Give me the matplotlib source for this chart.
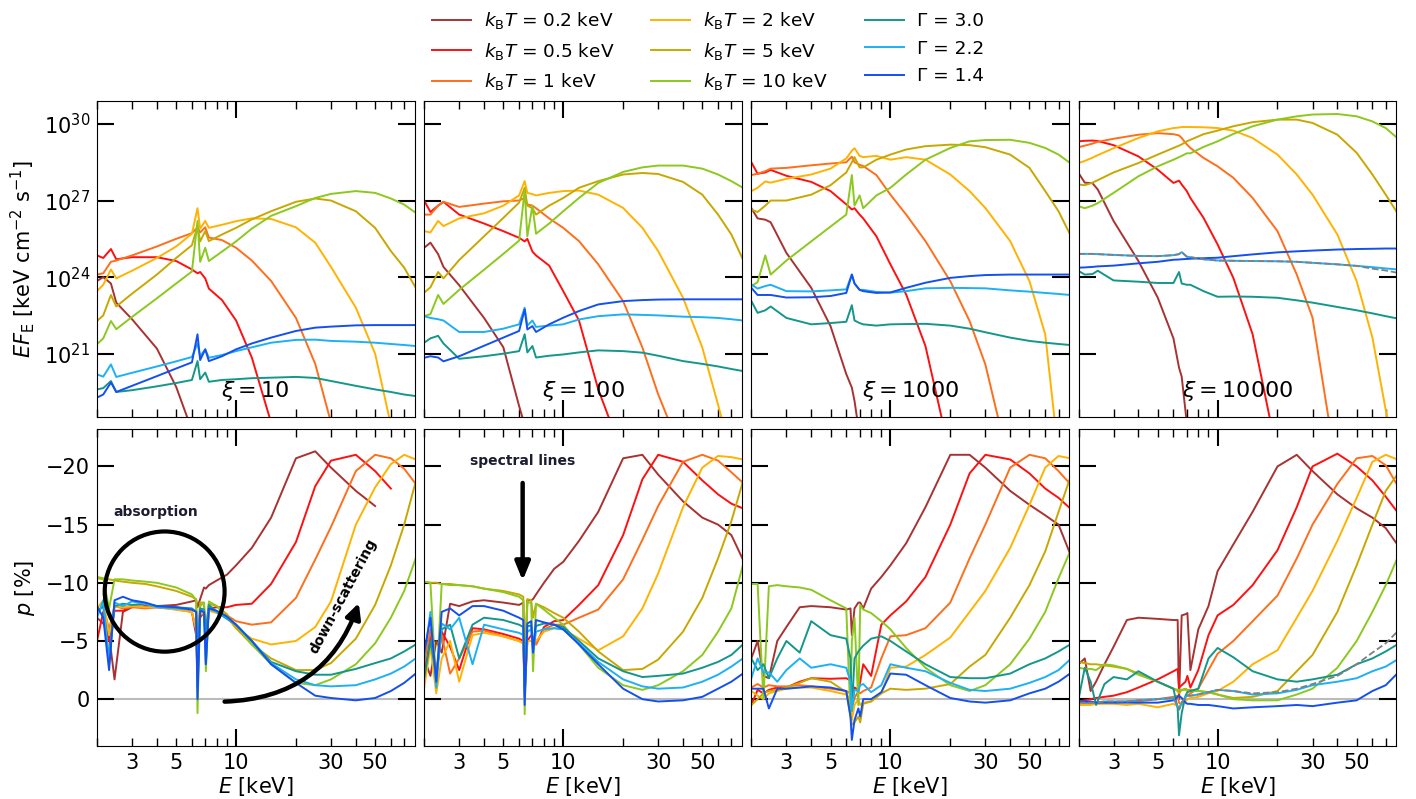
import numpy as np
import matplotlib
matplotlib.use("Agg")
import matplotlib.pyplot as plt
from matplotlib.patches import Ellipse
from matplotlib.ticker import FixedLocator, NullLocator, FuncFormatter

nan = float("nan")

# Energy grids (keV)
E_flux = [2.0, 2.15, 2.35, 2.5, 3.0, 4.0, 5.0, 6.0, 6.4, 6.6, 7.0, 7.3, 8.5, 10,
          12, 15, 20, 25, 30, 40, 50, 60, 70, 80]
E_pol = [2.0, 2.15, 2.3, 2.45, 2.7, 3.0, 3.5, 4.0, 5.0, 6.0, 6.3, 6.4, 6.6, 6.9, 7.05,
         7.3, 8.0, 9.0, 10, 12, 15, 20, 25, 30, 40, 50, 60, 70, 80]

legend_labels = [r"$k_{\rm B}T$ = 0.2 keV", r"$k_{\rm B}T$ = 0.5 keV", r"$k_{\rm B}T$ = 1 keV",
                 r"$k_{\rm B}T$ = 2 keV", r"$k_{\rm B}T$ = 5 keV", r"$k_{\rm B}T$ = 10 keV",
                 "Γ = 3.0", "Γ = 2.2", "Γ = 1.4"]
colors = ["#a83232", "#ff1010", "#ff6e1a", "#ffb300", "#c8a800", "#8cc81e",
          "#14978a", "#1cb0f6", "#1450f0"]
xi_values = ["10", "100", "1000", "10000"]

# log10 of E F_E, rows in legend order
logflux_xi10 = [
    [23.85, 24.0, 23.75, 23.0, 22.35, 21.2, 19.7, 18.0] + [nan] * 16,
    [24.85, 24.75, 25.1, 24.7, 24.78, 24.78, 24.63, 24.3, 24.15, 24.2, 23.95, 23.55, 23.1, 22.3, 20.85, 18.3] + [nan] * 8,
    [24.1, 24.15, 24.6, 24.65, 24.85, 25.2, 25.5, 25.72, 25.95, 25.75, 25.95, 25.55, 25.45, 25.15, 24.65, 23.85, 22.4, 20.6, 18.3] + [nan] * 5,
    [23.45, 23.7, 24.3, 23.95, 24.25, 24.75, 25.2, 25.7, 26.7, 25.9, 26.2, 25.93, 26.05, 26.19, 26.3, 26.28, 25.95, 25.35, 24.4, 22.8, 21.0, 18.2, nan, nan],
    [22.28, 22.5, 23.3, 22.85, 23.35, 24.1, 24.75, 25.25, 26.0, 25.4, 25.8, 25.41, 25.67, 25.93, 26.26, 26.58, 26.95, 27.08, 27.0, 26.58, 25.93, 25.02, 24.37, 23.58],
    [21.37, 21.6, 22.28, 21.96, 22.44, 23.17, 23.75, 24.22, 26.2, 24.6, 25.15, 24.63, 25.0, 25.4, 25.9, 26.4, 26.78, 27.1, 27.26, 27.37, 27.3, 27.08, 26.84, 26.52],
    [19.6, 19.65, 19.93, 19.5, 19.57, 19.72, 19.85, 19.97, 20.71, 20.0, 20.26, 19.9, 19.97, 20.0, 20.04, 20.06, 20.09, 20.05, 19.93, 19.74, 19.6, 19.5, 19.4, 19.34],
    [20.19, 20.1, 20.58, 20.09, 20.25, 20.5, 20.7, 20.87, 21.4, 20.9, 21.17, 20.84, 20.95, 21.1, 21.25, 21.43, 21.54, 21.55, 21.5, 21.47, 21.43, 21.38, 21.34, 21.3],
    [19.28, 19.4, 19.87, 19.5, 19.74, 20.12, 20.42, 20.66, 21.76, 20.75, 21.17, 20.71, 20.9, 21.17, 21.4, 21.63, 21.89, 22.02, 22.06, 22.11, 22.12, 22.12, 22.12, 22.12],
]
logflux_xi100 = [
    [25.15, 25.35, 24.9, 24.4, 23.68, 22.4, 21.25, 18.95, 18.2] + [nan] * 15,
    [27.0, 26.55, 26.8, 26.95, 26.45, 26.1, 25.8, 25.54, 25.4, 25.5, 25.0, 24.85, 24.45, 23.45, 22.3, 19.6, 17.0] + [nan] * 7,
    [26.45, 26.45, 26.8, 26.95, 26.75, 26.88, 26.97, 27.0, 27.1, 26.85, 26.8, 26.7, 26.3, 25.93, 25.41, 24.5, 23.06, 21.24, 19.41, 17.0] + [nan] * 4,
    [25.8, 25.75, 26.2, 26.0, 26.3, 26.5, 26.8, 27.2, 27.76, 27.3, 27.25, 27.2, 27.3, 27.37, 27.39, 27.23, 26.71, 25.93, 25.02, 23.19, 21.24, 19.0, 17.0, nan],
    [23.39, 23.6, 24.2, 23.95, 24.67, 25.6, 26.32, 26.92, 27.5, 26.8, 26.7, 26.45, 26.8, 27.1, 27.5, 27.76, 28.02, 28.08, 28.04, 27.73, 27.23, 26.45, 25.67, 24.69],
    [22.47, 22.55, 23.3, 22.95, 23.5, 24.29, 24.91, 25.43, 27.4, 25.6, 26.8, 25.7, 26.1, 26.58, 27.1, 27.69, 28.12, 28.3, 28.37, 28.37, 28.25, 28.02, 27.76, 27.5],
    [21.43, 21.6, 21.7, 21.4, 20.8, 20.9, 21.0, 21.1, 21.76, 21.05, 21.3, 20.85, 20.92, 20.97, 21.05, 21.13, 21.1, 21.04, 20.92, 20.71, 20.6, 20.5, 20.4, 20.32],
    [22.47, 22.4, 22.35, 22.3, 21.85, 21.85, 21.98, 22.15, 22.8, 22.1, 22.3, 22.05, 22.1, 22.15, 22.34, 22.47, 22.54, 22.52, 22.5, 22.45, 22.43, 22.4, 22.35, 22.3],
    [20.84, 20.9, 20.85, 20.7, 20.9, 21.31, 21.63, 21.89, 22.73, 21.95, 22.08, 21.85, 22.15, 22.41, 22.67, 22.93, 23.06, 23.1, 23.12, 23.13, 23.13, 23.13, 23.13, 23.13],
]
logflux_xi1000 = [
    [26.7, 26.3, 26.25, 26.15, 24.95, 23.58, 22.08, 20.2, 19.67, 19.15, 17.8] + [nan] * 13,
    [28.5, 28.05, 28.1, 28.2, 27.97, 27.73, 27.37, 26.85, 26.65, 26.7, 26.45, 26.3, 25.6, 24.5, 23.32, 21.3, 17.0] + [nan] * 7,
    [28.0, 28.05, 28.15, 28.25, 28.28, 28.38, 28.45, 28.5, 28.72, 28.5, 28.4, 28.35, 28.0, 27.23, 26.45, 25.41, 23.84, 22.28, 20.58, 16.5] + [nan] * 4,
    [27.37, 27.5, 27.75, 27.7, 27.85, 28.02, 28.25, 28.65, 28.95, 29.05, 28.75, 28.7, 28.75, 28.6, 28.7, 28.6, 28.02, 27.37, 26.71, 25.41, 23.84, 21.76, 17.0, nan],
    [26.65, 26.55, 26.8, 27.0, 27.0, 27.23, 27.6, 28.1, 28.5, 28.7, 28.3, 28.3, 28.6, 28.8, 29.0, 29.13, 29.19, 29.17, 29.09, 28.8, 28.28, 27.37, 26.58, 25.67],
    [23.65, 23.8, 24.85, 24.1, 24.65, 25.4, 25.98, 26.45, 28.0, 26.8, 27.2, 26.7, 27.2, 27.5, 28.02, 28.6, 29.06, 29.32, 29.37, 29.38, 29.26, 29.06, 28.8, 28.47],
    [23.06, 22.6, 22.7, 22.85, 22.4, 22.15, 22.2, 22.25, 22.9, 22.3, 22.2, 22.15, 22.1, 22.15, 22.16, 22.17, 22.1, 21.98, 21.84, 21.63, 21.5, 21.43, 21.38, 21.34],
    [23.71, 23.55, 23.65, 23.7, 23.45, 23.44, 23.48, 23.52, 24.1, 23.75, 23.5, 23.5, 23.42, 23.39, 23.45, 23.56, 23.58, 23.57, 23.56, 23.48, 23.43, 23.38, 23.34, 23.3],
    [23.58, 23.3, 23.3, 23.3, 23.2, 23.21, 23.26, 23.38, 24.1, 23.75, 23.5, 23.45, 23.38, 23.4, 23.58, 23.78, 23.97, 24.04, 24.08, 24.1, 24.1, 24.1, 24.1, 24.1],
]
logflux_xi10000 = [
    [28.08, 27.7, 27.68, 27.43, 26.2, 24.63, 23.2, 21.6, 20.45, 20.1, 18.3, 17.5] + [nan] * 12,
    [29.32, 29.34, 29.35, 29.33, 29.17, 28.73, 28.21, 27.69, 27.78, 27.63, 27.37, 27.1, 26.32, 25.28, 23.97, 21.76, 17.0] + [nan] * 7,
    [29.09, 29.15, 29.23, 29.3, 29.42, 29.58, 29.64, 29.6, 29.55, 29.45, 29.2, 29.06, 28.67, 28.34, 27.89, 27.1, 25.8, 24.1, 22.41, 16.3] + [nan] * 4,
    [28.47, 28.55, 28.68, 28.78, 29.05, 29.45, 29.71, 29.84, 29.86, 29.88, 29.88, 29.88, 29.87, 29.84, 29.74, 29.45, 28.8, 28.02, 27.23, 25.67, 23.84, 21.63, 18.8, 16.5],
    [27.63, 27.6, 27.7, 27.8, 28.1, 28.47, 28.8, 29.06, 29.15, 29.2, 29.32, 29.38, 29.6, 29.74, 29.91, 30.07, 30.17, 30.17, 30.04, 29.58, 28.87, 28.02, 27.23, 26.52],
    [26.78, 26.7, 26.8, 26.9, 27.3, 27.95, 28.34, 28.6, 28.7, 28.75, 28.85, 28.85, 29.1, 29.32, 29.61, 29.91, 30.17, 30.3, 30.37, 30.39, 30.3, 30.1, 29.84, 29.45],
    [24.24, 24.1, 24.12, 24.25, 23.87, 23.82, 23.77, 23.77, 24.2, 23.75, 23.7, 23.7, 23.45, 23.23, 23.24, 23.23, 23.19, 23.09, 23.0, 22.83, 22.7, 22.58, 22.47, 22.38],
    [24.91, 24.91, 24.91, 24.9, 24.87, 24.83, 24.82, 24.86, 24.9, 24.98, 24.8, 24.78, 24.7, 24.65, 24.64, 24.63, 24.62, 24.6, 24.56, 24.5, 24.44, 24.39, 24.34, 24.3],
    [24.37, 24.38, 24.4, 24.42, 24.45, 24.54, 24.6, 24.68, 24.69, 24.7, 24.71, 24.72, 24.74, 24.76, 24.82, 24.89, 24.97, 25.01, 25.04, 25.08, 25.1, 25.11, 25.12, 25.12],
]
logflux_gray_xi10000 = [24.91, 24.91, 24.91, 24.9, 24.87, 24.83, 24.82, 24.86, 24.9, 24.98, 24.8, 24.78,
                        24.7, 24.65, 24.64, 24.63, 24.62, 24.6, 24.56, 24.5, 24.44, 24.33, 24.26, 24.17]

# polarisation degree p [%]
pol_xi10 = [
    [-7.0, -6.5, -5.5, -1.7, -7.5, -7.9, -8.0, -8.0, -8.1, -8.4, -8.5, -7.9, -8.6, -9.6, -9.5, -9.8, -10.2, -10.7, -11.5, -13.0, -15.6, -20.7, -21.3, -19.9, -17.9, -16.6, nan, nan, nan],
    [-5.0, -7.5, -5.0, -7.6, -7.6, -8.0, -7.9, -7.9, -7.8, -7.5, -5.5, -2.0, -7.0, -7.5, -5.0, -7.8, -7.9, -7.9, -8.1, -8.2, -9.9, -13.5, -18.3, -20.5, -21.0, -19.6, -18.1, nan, nan],
    [-7.5, -8.0, -6.0, -8.0, -7.8, -7.9, -7.8, -7.9, -7.7, -7.5, -6.0, -2.5, -7.3, -7.5, -5.0, -7.6, -7.5, -7.2, -6.7, -6.4, -6.6, -8.7, -12.0, -14.8, -19.6, -21.0, -20.7, -19.8, -18.5],
    [-7.8, -8.5, -5.5, -8.0, -7.9, -8.0, -7.9, -7.9, -7.7, -7.5, -6.0, -2.0, -7.3, -7.4, -5.0, -7.6, -7.4, -7.0, -6.1, -5.2, -4.7, -5.0, -6.2, -8.4, -15.0, -18.2, -20.2, -21.0, -20.6],
    [-10.4, -10.3, -10.3, -10.2, -10.1, -10.0, -9.9, -9.7, -9.3, -8.8, -8.6, -5.0, -8.3, -8.3, -6.0, -8.2, -8.0, -7.3, -6.1, -4.7, -3.5, -2.5, -2.5, -3.1, -5.2, -8.1, -11.5, -15.0, -18.7],
    [-10.5, -10.4, -7.8, -10.3, -10.3, -10.2, -10.1, -10.0, -9.6, -9.0, -8.5, 1.2, -8.0, -8.3, -2.4, -8.4, -8.0, -7.0, -6.4, -4.7, -3.0, -1.4, -1.2, -1.7, -3.0, -4.8, -7.0, -9.3, -12.1],
    [-7.5, -8.0, -3.5, -8.0, -8.2, -8.1, -8.2, -8.0, -7.9, -7.8, -7.5, -3.5, -7.8, -7.7, -5.8, -8.1, -7.5, -6.9, -6.4, -5.0, -3.2, -2.4, -2.1, -2.1, -2.6, -3.1, -3.5, -4.1, -4.7],
    [-7.0, -8.5, -3.0, -8.3, -8.0, -8.4, -8.2, -7.9, -7.8, -7.7, -7.5, -1.0, -7.6, -7.6, -3.0, -7.8, -7.5, -7.0, -6.4, -5.0, -3.1, -1.7, -1.2, -1.1, -1.2, -1.7, -2.2, -2.8, -3.5],
    [-8.0, -7.0, -2.5, -8.5, -8.8, -8.5, -8.3, -8.0, -7.9, -7.7, -7.5, 0.0, -7.6, -7.5, -3.0, -7.8, -7.6, -7.1, -6.4, -5.0, -3.0, -1.4, -0.3, -0.1, 0.1, -0.1, -0.7, -1.4, -2.2],
]
pol_xi100 = [
    [-3.5, -2.0, -5.0, -4.0, -8.2, -8.0, -8.4, -8.5, -8.3, -8.1, -8.3, -1.5, -8.5, -8.5, -8.6, -9.0, -10.0, -11.2, -11.8, -13.6, -16.1, -20.7, -21.0, -19.3, -17.0, -15.6, -15.0, -14.1, -12.0],
    [-1.8, -5.5, -2.0, -5.8, -4.5, -2.5, -6.1, -6.0, -5.6, -5.2, -5.0, -0.8, -5.0, -5.5, -5.3, -4.7, -6.2, -6.7, -6.8, -8.1, -9.8, -14.1, -18.9, -21.0, -20.4, -18.8, -17.6, -16.8, -16.4],
    [-3.0, -6.0, -2.5, -5.5, -2.2, -3.5, -5.8, -5.9, -5.4, -5.0, -4.8, -0.5, -5.0, -5.0, -5.2, -4.7, -6.0, -6.4, -6.4, -7.0, -7.7, -10.3, -13.7, -16.6, -20.4, -21.0, -20.5, -19.5, -18.6],
    [-1.0, -4.5, -0.5, -3.5, -5.0, -1.5, -5.5, -5.7, -5.4, -5.0, -4.8, -0.2, -5.0, -5.0, -5.2, -5.0, -5.8, -6.1, -6.0, -5.2, -4.2, -5.4, -7.8, -10.8, -16.5, -19.9, -20.9, -20.8, -20.6],
    [-10.1, -10.0, -10.0, -9.9, -9.9, -9.8, -9.7, -9.5, -9.3, -9.0, -8.8, -3.0, -8.6, -8.5, -7.0, -8.2, -7.9, -7.4, -7.0, -5.8, -4.1, -2.5, -2.6, -3.4, -5.8, -8.7, -12.1, -15.3, -18.7],
    [-10.1, -10.0, -1.0, -9.9, -9.8, -9.8, -9.7, -9.5, -9.2, -8.8, -8.5, 1.3, -8.3, -8.3, -2.4, -8.2, -7.7, -7.0, -6.4, -4.7, -2.7, -1.2, -0.8, -1.2, -2.4, -3.8, -5.8, -7.8, -11.5],
    [-1.8, -5.0, -2.0, -6.0, -6.4, -3.5, -6.4, -7.0, -6.8, -6.4, -6.2, -1.0, -6.3, -6.3, -4.5, -6.3, -6.5, -6.4, -6.2, -5.0, -3.5, -2.4, -1.9, -2.0, -2.2, -2.7, -3.2, -3.8, -4.7],
    [-3.5, -7.5, -1.0, -6.5, -6.0, -7.0, -3.0, -6.4, -6.0, -5.7, -5.5, -0.2, -5.8, -6.0, -4.0, -5.8, -6.0, -6.1, -6.0, -4.8, -3.2, -1.7, -1.1, -0.9, -1.0, -1.5, -2.1, -2.8, -3.5],
    [-4.0, -7.0, -1.5, -7.5, -7.8, -7.2, -8.0, -8.0, -7.6, -7.0, -6.8, 0.5, -6.5, -6.7, -4.0, -6.8, -6.6, -6.4, -6.0, -4.7, -3.0, -0.9, 0.0, 0.2, 0.1, -0.2, -0.9, -1.5, -2.2],
]
pol_xi1000 = [
    [-3.5, -5.0, -2.0, -1.8, -5.0, -6.2, -7.9, -8.0, -7.9, -7.7, -7.8, -5.5, -7.8, -8.3, -8.3, -7.8, -9.5, -10.5, -11.5, -13.4, -16.5, -21.0, -21.0, -19.9, -17.9, -16.7, -15.8, -15.0, -12.5],
    [0.5, -0.8, -0.5, -0.8, -1.0, -1.0, -1.5, -1.8, -1.75, -1.8, -1.6, 0.5, -1.0, -0.8, -1.5, -3.0, -2.0, -6.4, -7.2, -8.4, -10.5, -15.0, -19.4, -21.0, -20.6, -19.4, -18.1, -17.3, -16.4],
    [-1.0, -1.3, -1.0, -1.2, -1.1, -1.1, -1.2, -1.1, -0.9, -0.7, -0.5, 0.8, -0.1, -0.7, -0.5, -0.7, -1.0, -3.5, -5.4, -5.5, -6.1, -8.3, -12.1, -15.0, -19.9, -21.0, -20.7, -19.6, -18.5],
    [-0.7, -0.3, 0.0, -0.5, -0.7, -0.9, -1.0, -1.0, -0.7, -0.4, 0.0, 1.8, 0.5, 0.0, 0.5, 0.3, 0.2, -0.5, -2.7, -2.8, -3.8, -5.3, -7.5, -9.3, -13.0, -16.7, -19.9, -20.9, -20.7],
    [0.5, 0.0, -0.5, -0.7, -0.8, -1.0, -1.4, -1.8, -1.5, -0.6, 1.5, 2.2, 2.0, 1.5, 2.0, 0.4, 0.2, -0.5, -0.9, -0.8, -0.9, -1.3, -2.8, -3.8, -7.0, -9.8, -12.7, -16.1, -19.0],
    [-9.9, -9.9, 0.0, -9.7, -9.8, -9.7, -9.6, -9.4, -8.5, -7.8, 1.4, -5.0, -7.0, 0.5, -8.1, -7.7, -7.4, -6.7, -6.0, -4.4, -2.7, -1.2, -0.7, -1.2, -3.0, -5.2, -7.5, -10.4, -12.7],
    [-3.5, -2.5, -3.0, -1.8, -3.5, -5.0, -4.0, -6.7, -5.5, -5.2, -3.5, 1.0, -3.5, -4.1, -4.3, -4.6, -5.2, -5.4, -5.0, -4.1, -3.0, -1.9, -1.8, -1.8, -2.2, -3.0, -3.5, -4.1, -4.7],
    [-1.8, -3.5, -2.3, -2.3, -1.5, -2.5, -3.5, -2.7, -3.0, -2.7, -1.5, 1.0, -0.8, -0.7, -1.2, -1.3, -0.6, -1.2, -3.0, -2.7, -2.4, -1.4, -0.8, -0.7, -0.9, -1.4, -1.9, -2.5, -3.4],
    [-0.9, -0.9, -0.9, 0.8, -0.9, -0.9, -1.0, -1.1, -1.0, -0.7, 1.5, 3.5, 1.8, 0.8, 1.5, 0.0, 0.0, -0.6, -2.2, -2.1, -1.2, -0.1, 0.2, 0.3, 0.1, -0.5, -0.9, -1.5, -2.2],
]
pol_xi10000 = [
    [-3.0, -3.5, -0.7, -1.5, -3.0, -4.5, -6.8, -7.0, -6.9, -6.8, -6.8, 0.0, -7.2, -7.3, -7.4, -2.5, -6.0, -8.0, -11.0, -13.3, -16.1, -20.0, -21.0, -19.6, -17.6, -16.4, -15.6, -14.7, -13.3],
    [0.2, 0.1, 0.0, -0.1, -0.2, -0.3, -0.6, -1.0, -1.7, -2.4, -2.6, -1.0, -1.2, -1.5, -2.0, -1.0, -2.5, -5.5, -7.2, -8.1, -9.8, -12.8, -16.5, -20.0, -21.1, -20.0, -18.8, -17.4, -16.1],
    [0.5, 0.4, 0.4, 0.4, 0.3, 0.3, 0.2, 0.2, 0.0, -0.2, -0.3, 0.3, 0.5, -0.2, -0.3, -0.5, -0.9, -2.5, -3.9, -5.0, -6.7, -8.9, -12.1, -15.0, -18.5, -20.7, -20.9, -20.1, -18.4],
    [0.5, 0.5, 0.5, 0.4, 0.4, 0.4, 0.5, 0.4, 0.7, 0.4, 0.6, 0.8, 0.3, 0.2, 0.0, -0.1, -0.2, -0.5, -0.7, -1.5, -3.0, -4.2, -7.0, -9.3, -13.6, -17.3, -20.4, -21.0, -20.6],
    [-3.2, -3.1, -3.0, -3.0, -2.9, -2.8, -2.6, -2.2, -1.5, -0.9, -0.7, -0.5, -0.8, -0.9, -0.8, -0.8, -0.7, -0.6, -0.4, -0.1, -0.2, -0.7, -2.4, -3.8, -7.5, -11.5, -15.0, -17.9, -19.3],
    [-2.7, -2.6, -2.6, -2.5, -3.0, -2.9, -2.6, -2.1, -1.5, -0.9, -0.8, -0.8, -0.8, -0.8, -0.7, -0.7, -0.7, -0.6, -0.4, 0.0, 0.1, 0.1, -0.4, -0.9, -2.7, -5.0, -7.5, -9.8, -12.1],
    [0.0, -2.7, -1.5, 0.5, -1.3, -1.9, -1.7, -2.4, -1.5, -0.9, 0.8, 3.1, 1.2, -0.3, -0.6, -0.7, -0.9, -3.5, -4.4, -3.6, -2.4, -1.7, -1.5, -1.7, -2.1, -3.0, -3.5, -4.1, -4.7],
    [0.3, 0.3, 0.3, 0.3, 0.2, 0.2, 0.2, 0.1, 0.0, -0.1, 0.6, 0.9, 0.3, -0.2, -0.3, -0.3, -0.4, -0.6, -0.8, -0.7, -0.4, -0.5, -0.8, -1.2, -1.5, -1.8, -2.4, -2.8, -3.4],
    [0.2, 0.2, 0.2, 0.3, 0.3, 0.3, 0.3, 0.3, 0.3, 0.1, -0.2, -0.3, -0.1, 0.3, 0.4, 0.4, 0.5, 0.5, 0.6, 0.8, 0.7, 0.6, 0.5, 0.6, 0.3, 0.1, -0.7, -1.2, -2.2],
]
pol_gray_xi10000 = [0.3, 0.3, 0.3, 0.3, 0.2, 0.2, 0.2, 0.1, 0.0, -0.1, 0.6, 0.9, 0.3, -0.2, -0.3, -0.3,
                    -0.4, -0.6, -0.8, -0.7, -0.5, -0.6, -0.9, -1.3, -2.0, -3.0, -4.0, -4.8, -5.8]

logflux_all = [logflux_xi10, logflux_xi100, logflux_xi1000, logflux_xi10000]
pol_all = [pol_xi10, pol_xi100, pol_xi1000, pol_xi10000]

fig, axes = plt.subplots(2, 4, figsize=(14.16, 7.99))
fig.subplots_adjust(left=0.0685, right=0.986, top=0.8736, bottom=0.0667, wspace=0.03, hspace=0.037)

minor_x = [2, 3, 4, 5, 6, 7, 8, 9, 20, 30, 40, 50, 60, 70]


def xfmt(v, pos):
    return "%g" % v if round(v) in (3, 5, 30, 50) else ""


for col in range(4):
    axt = axes[0, col]
    axb = axes[1, col]

    for vals, c, lab in zip(logflux_all[col], colors, legend_labels):
        axt.plot(E_flux, 10 ** np.array(vals), color=c, lw=1.4, label=lab)
    for vals, c in zip(pol_all[col], colors):
        axb.plot(E_pol, vals, color=c, lw=1.4)
    if col == 3:
        axt.plot(E_flux, 10 ** np.array(logflux_gray_xi10000), color="gray", lw=1.3, ls="--")
        axb.plot(E_pol, pol_gray_xi10000, color="gray", lw=1.3, ls="--")

    axb.axhline(0, color="#bbbbbb", lw=1.5, zorder=0)

    axt.set_yscale("log")
    axt.set_ylim(10 ** 18.5, 10 ** 30.9)
    axt.yaxis.set_major_locator(FixedLocator([1e21, 1e24, 1e27, 1e30]))
    axt.yaxis.set_minor_locator(NullLocator())

    axb.set_ylim(4.0, -23.2)
    axb.set_yticks([0, -5, -10, -15, -20])

    axt.text(0.5, 0.085, r"$\xi = %s$" % xi_values[col], transform=axt.transAxes,
             ha="center", va="center", fontsize=16)

    for ax in (axt, axb):
        ax.set_xscale("log")
        ax.set_xlim(2.0, 79)
        ax.xaxis.set_major_locator(FixedLocator([10]))
        ax.xaxis.set_minor_locator(FixedLocator(minor_x))
        ax.tick_params(which="both", direction="in", top=True, right=True)
        ax.tick_params(which="major", length=12, width=1.5, labelsize=15, pad=5)
        ax.tick_params(which="minor", length=6, width=1.0, labelsize=15, pad=5)
        if col > 0:
            ax.tick_params(labelleft=False)

    axt.tick_params(which="both", labelbottom=False)
    axb.xaxis.set_major_formatter(FuncFormatter(lambda v, p: "%g" % v))
    axb.xaxis.set_minor_formatter(FuncFormatter(xfmt))
    axb.set_xlabel(r"$E$ [keV]", fontsize=15, labelpad=2)

axes[0, 0].set_ylabel(r"$EF_{\rm E}$ [keV cm$^{-2}$ s$^{-1}$]", fontsize=15)
axes[1, 0].set_ylabel(r"$p$ [%]", fontsize=15)
axes[0, 0].yaxis.set_label_coords(-0.19, 0.5)
axes[1, 0].yaxis.set_label_coords(-0.19, 0.5)

# annotations
ax = axes[1, 0]
ax.add_patch(Ellipse((0.213, 0.487), 120 / 318, 120 / 316, transform=ax.transAxes,
                     fill=False, lw=3, ec="black", zorder=5))
ax.text(0.186, 0.737, "absorption", transform=ax.transAxes, ha="center", va="center",
        fontsize=10, fontweight="bold", color="#1c1c30")
ax.annotate("", xy=(0.827, 0.459), xytext=(0.393, 0.139), xycoords="axes fraction",
            arrowprops=dict(arrowstyle="-|>,head_width=0.45,head_length=0.9", lw=3.2,
                            color="black", connectionstyle="arc3,rad=0.35"))
ax.text(0.774, 0.472, "down-scattering", transform=ax.transAxes, ha="center", va="center",
        rotation=62, fontsize=10, fontweight="bold", color="black")

ax = axes[1, 1]
ax.text(0.31, 0.899, "spectral lines", transform=ax.transAxes, ha="center", va="center",
        fontsize=10, fontweight="bold", color="#1c1c30")
ax.annotate("", xy=(0.31, 0.513), xytext=(0.31, 0.839), xycoords="axes fraction",
            arrowprops=dict(arrowstyle="-|>,head_width=0.45,head_length=1.1", lw=3.2, color="black"))

handles, labels = axes[0, 0].get_legend_handles_labels()
fig.legend(handles, labels, loc="upper center", ncol=3, bbox_to_anchor=(0.5, 1.008),
           frameon=False, fontsize=13.3, handlelength=2.1, handletextpad=0.7,
           columnspacing=2.0, labelspacing=0.52)

fig.savefig("out.png", dpi=100)
plt.close(fig)
